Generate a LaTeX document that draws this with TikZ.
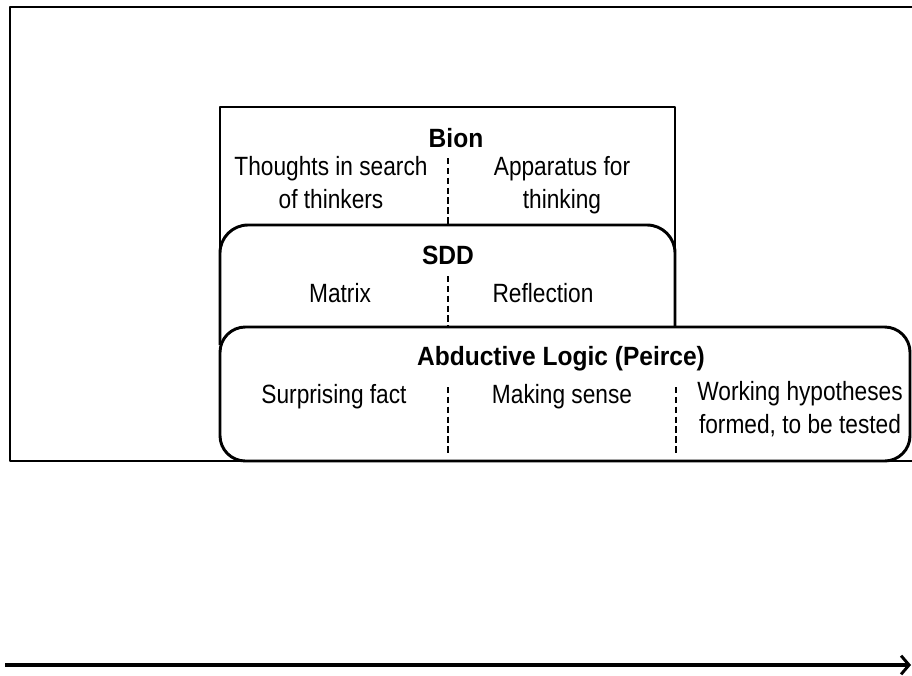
\documentclass[tikz,border=0pt]{standalone}
\usepackage{fontspec}
\setmainfont{Liberation Sans}
\newfontfamily\narrowsans[FakeStretch=0.86]{Liberation Sans}
\newfontfamily\narrowbold[FakeStretch=0.93]{Liberation Sans Bold}
\usetikzlibrary{arrows.meta}
\begin{document}
\begin{tikzpicture}[x=0.75pt,y=-0.75pt,
  box/.style={line width=2.2pt, line join=round},
  divider/.style={line width=1.4pt, dash pattern=on 4.8pt off 2.6pt},
  lab/.style={font=\narrowsans\fontsize{19.8}{24.7}\selectfont, align=center, anchor=base, inner sep=0pt},
  ttl/.style={font=\narrowbold\fontsize{19.8}{24.7}\selectfont, anchor=base, inner sep=0pt}]
\fill[white] (0,0) rectangle (912,675);
\clip (0,0) rectangle (912,675);
% outer frame
\draw[box] (10,7) rectangle (940,461);
% Bion box
\draw[box] (220,340) -- (220,107) -- (675,107) -- (675,340);
% SDD box
\draw[box, fill=white, rounded corners=21pt] (220,345) -- (220,225) -- (675,225) -- (675,345);
% Abductive box
\draw[box, fill=white, rounded corners=19pt] (220,327) rectangle (910,461);
% dividers
\draw[divider] (448,158) -- (448,225);
\draw[divider] (448,276) -- (448,327);
\draw[divider] (448,387) -- (448,455);
\draw[divider] (676,387) -- (676,455);
% texts (base anchor of a two-line node is the last line's baseline)
\node[ttl] (bion) at (456,147) {Bion};
\node[lab] (thoughts) at (331,208) {Thoughts in search\\of thinkers};
\node[lab] (apparatus) at (562,208) {Apparatus for\\thinking};
\node[ttl] (sdd) at (448,264) {SDD};
\node[lab] (matrix) at (340,302) {Matrix};
\node[lab] (reflection) at (543,302) {Reflection};
\node[ttl] (abd) at (561,365) {Abductive Logic (Peirce)};
\node[lab] (surprising) at (334,403) {Surprising fact};
\node[lab] (making) at (562,403) {Making sense};
\node[lab] (working) at (800,433) {Working hypotheses\\formed, to be tested};
% time axis
\coordinate (axstart) at (5,665);
\coordinate (axend) at (911,665);
\draw[line width=3pt, -{Straight Barb[length=6pt,width=14pt,line width=2.2pt]}] (axstart) -- (axend);
\end{tikzpicture}
\end{document}
